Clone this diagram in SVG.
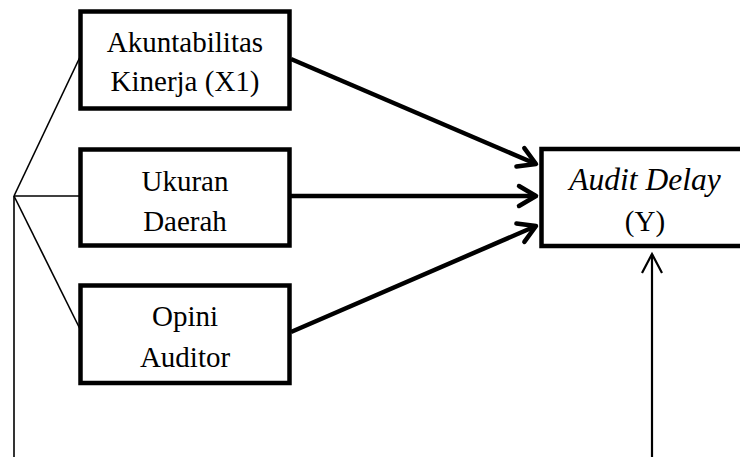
<svg xmlns="http://www.w3.org/2000/svg" width="740" height="457" viewBox="0 0 740 457">
<style>
.box{fill:#fff;stroke:#000;stroke-width:4.5}
.t{font-family:"Liberation Serif","Times New Roman",serif;font-size:29px;fill:#000;text-anchor:middle}
.ti{font-style:italic;font-size:31.5px}
.thick{stroke:#000;stroke-width:4.5;fill:none}
.thin{stroke:#000;stroke-width:1.6;fill:none}
.thin2{stroke:#000;stroke-width:2.2;fill:none}
</style>
<defs>
<marker id="ah" markerUnits="userSpaceOnUse" markerWidth="30" markerHeight="30" viewBox="-25 -15 30 30" refX="0" refY="0" orient="auto">
<path d="M-17,-10 L0,0 L-17,10" fill="none" stroke="#000" stroke-width="4.5" stroke-linecap="round" stroke-linejoin="round"/>
</marker>
<marker id="ah2" markerUnits="userSpaceOnUse" markerWidth="30" markerHeight="30" viewBox="-25 -15 30 30" refX="0" refY="0" orient="auto">
<path d="M-19,-10 L0,0 L-19,10" fill="none" stroke="#000" stroke-width="2.2"/>
</marker>
</defs>
<g id="connectors">
<line class="thin" x1="14" y1="196" x2="14" y2="457"/>
<line class="thin" x1="14" y1="196" x2="80" y2="57"/>
<line class="thin" x1="14" y1="196" x2="80" y2="196"/>
<line class="thin" x1="14" y1="196" x2="80" y2="329"/>
<line class="thick" x1="291" y1="59" x2="536" y2="164" marker-end="url(#ah)"/>
<line class="thick" x1="291" y1="196" x2="536" y2="196" marker-end="url(#ah)"/>
<line class="thick" x1="291" y1="332" x2="536" y2="226" marker-end="url(#ah)"/>
<line class="thin2" x1="652" y1="457" x2="652" y2="254" marker-end="url(#ah2)"/>
</g>
<g id="x1">
<rect class="box" x="80.5" y="11.5" width="209" height="97"/>
<text class="t" x="185" y="52">Akuntabilitas</text>
<text class="t" x="185" y="91">Kinerja (X1)</text>
</g>
<g id="x2">
<rect class="box" x="80.5" y="149.5" width="209" height="96"/>
<text class="t" x="185" y="191">Ukuran</text>
<text class="t" x="185" y="231">Daerah</text>
</g>
<g id="x3">
<rect class="box" x="80.5" y="285.5" width="209" height="97.5"/>
<text class="t" x="185" y="326">Opini</text>
<text class="t" x="185" y="367">Auditor</text>
</g>
<g id="y">
<rect class="box" x="541.5" y="149" width="220" height="97"/>
<text class="t ti" x="645" y="190">Audit Delay</text>
<text class="t" x="645" y="231">(Y)</text>
</g>
</svg>
